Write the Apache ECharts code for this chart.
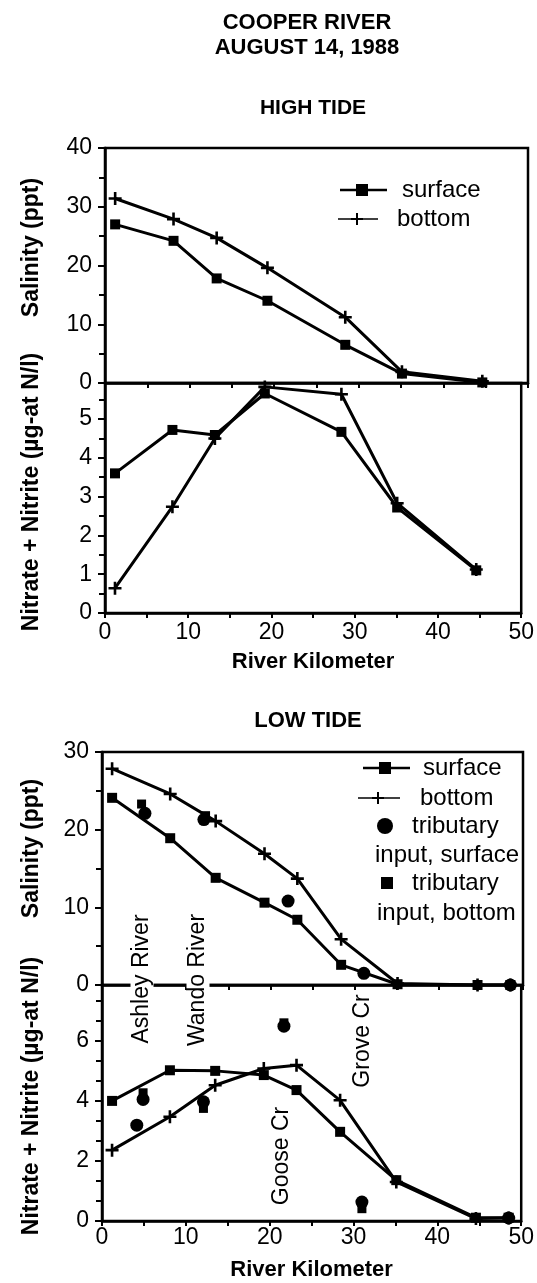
<!DOCTYPE html>
<html><head><meta charset="utf-8">
<script src="https://cdn.jsdelivr.net/npm/echarts@6/dist/echarts.min.js"></script>
<style>html,body{margin:0;padding:0;background:#fff}#c{width:537px;height:1283px}</style>
</head><body><div id="c"></div>
<script>
const FONT = '"Liberation Sans", Arial, Helvetica, sans-serif';

// ---- HIGH TIDE ----
const htKm = [1.2, 8.1, 13.2, 19.2, 28.4, 35.1, 44.6];
const htSalSurface = [27.0, 24.2, 17.8, 14.0, 6.5, 1.6, 0.1];
const htSalBottom = [31.4, 27.9, 24.7, 19.6, 11.2, 1.9, 0.3];
const htNitSurface = [3.6, 4.72, 4.59, 5.66, 4.67, 2.72, 1.1];
const htNitBottom = [0.64, 2.74, 4.5, 5.83, 5.64, 2.83, 1.12];

// ---- LOW TIDE ----
const ltKm = [1.2, 8.1, 13.5, 19.3, 23.2, 28.4, 35.1, 44.6, 48.5];
const ltSalSurface = [24.1, 18.9, 13.8, 10.6, 8.4, 2.6, 0.1, 0, 0];
const ltSalBottom = [27.85, 24.6, 21.1, 16.9, 13.7, 5.9, 0.2, 0, 0];
const ltNitSurface = [4.0, 5.02, 5.0, 4.86, 4.36, 2.97, 1.36, 0.11, 0.11];
const ltNitBottom = [2.36, 3.47, 4.52, 5.08, 5.19, 4.02, 1.3, 0.08, 0.1];

// tributary inputs (low tide)
const tribSalSurfKm = [5.1, 12.1, 22.1, 31.1, 48.5];
const tribSalSurf = [22.1, 21.3, 10.8, 1.5, 0];
const tribSalBotKm = [4.7, 12.3];
const tribSalBot = [23.3, 21.8];
const tribNitSurfKm = [4.9, 4.15, 12.1, 21.7, 31.0, 48.5];
const tribNitSurf = [4.05, 3.19, 3.97, 6.49, 0.63, 0.1];
const tribNitBotKm = [4.9, 12.1, 21.7, 31.0];
const tribNitBot = [4.27, 3.75, 6.6, 0.41];

// tick values
const kmTicks = [0, 10, 20, 30, 40, 50];
const htSalTicks = [0, 10, 20, 30, 40];
const htNitTicks = [0, 1, 2, 3, 4, 5];
const ltSalTicks = [0, 10, 20, 30];
const ltNitTicks = [0, 2, 4, 6];

const zip = (xs, ys) => xs.map((x, i) => [x, ys[i]]);
const PLUS = 'path://M4,0H6V4H10V6H6V10H4V6H0V4H4Z';
const K = '#000';

function lineSeries(name, xi, km, vals, symbol, size) {
  return {
    name, type: 'line', xAxisIndex: xi, yAxisIndex: xi,
    data: zip(km, vals), symbol, symbolSize: size, showAllSymbol: true,
    lineStyle: {color: K, width: 3}, itemStyle: {color: K, opacity: 1}, z: 3
  };
}
function scatterSeries(name, xi, km, vals, symbol, size) {
  return {
    name, type: 'scatter', xAxisIndex: xi, yAxisIndex: xi,
    data: zip(km, vals), symbol, symbolSize: size, itemStyle: {color: K, opacity: 1}, z: 4
  };
}

function xAxis(gi, showLabels) {
  return {
    type: 'value', gridIndex: gi, min: kmTicks[0], max: kmTicks[kmTicks.length - 1],
    interval: kmTicks[1] - kmTicks[0],
    axisLine: {lineStyle: {color: K, width: 2.5}},
    axisTick: {show: true, length: 5, lineStyle: {color: K, width: 2}},
    minorTick: {show: true, splitNumber: 2, length: 5, lineStyle: {color: K, width: 2}},
    splitLine: {show: false},
    axisLabel: {show: showLabels, color: K, fontFamily: FONT, fontSize: 23, margin: gi === 1 ? 8 : 5},
    name: showLabels ? 'River Kilometer' : '', nameLocation: 'middle', nameGap: 38,
    nameTextStyle: {color: K, fontFamily: FONT, fontSize: 22, fontWeight: 'bold'}
  };
}
function yAxis(gi, ticks, minorSplit, maxV, name, nameGap, pad) {
  return {
    type: 'value', gridIndex: gi, min: ticks[0], max: maxV, interval: ticks[1] - ticks[0],
    axisLine: {lineStyle: {color: K, width: 2.5}},
    axisTick: {show: true, length: 7, lineStyle: {color: K, width: 2}},
    minorTick: {show: true, splitNumber: minorSplit, length: 6, lineStyle: {color: K, width: 2}},
    splitLine: {show: false},
    axisLabel: {color: K, fontFamily: FONT, fontSize: 23, margin: 13,
      showMaxLabel: ticks[ticks.length - 1] === maxV,
      formatter: v => (ticks.indexOf(v) >= 0 ? String(v) : '')},
    name, nameLocation: 'middle', nameGap,
    nameTextStyle: {color: K, fontFamily: FONT, fontSize: 23, fontWeight: 'bold', padding: pad}
  };
}

const gridStyle = {show: true, borderColor: K, borderWidth: 2.5, backgroundColor: 'transparent'};

const txt = (x, y, text, size, bold, extra) => Object.assign({
  type: 'text', x, y,
  style: Object.assign({text, fill: K, font: (bold ? 'bold ' : '') + size + 'px ' + FONT,
    textAlign: 'left', textVerticalAlign: 'middle'}, extra || {})
});
const vtxt = (x, y, text, bg) => ({
  type: 'text', x, y, rotation: Math.PI / 2, z: 10,
  style: {text, fill: K, font: '23px ' + FONT, textAlign: 'center', textVerticalAlign: 'middle',
    backgroundColor: bg ? '#fff' : null, padding: 0}
});
const hline = (x1, x2, y, w) => ({type: 'line', shape: {x1, y1: y, x2, y2: y}, style: {stroke: K, lineWidth: w}});
const plusIcon = (cx, cy, s) => ([
  {type: 'line', shape: {x1: cx - s, y1: cy, x2: cx + s, y2: cy}, style: {stroke: K, lineWidth: 2}},
  {type: 'line', shape: {x1: cx, y1: cy - s, x2: cx, y2: cy + s}, style: {stroke: K, lineWidth: 2}}
]);
const rectIcon = (cx, cy, s) => ({type: 'rect', shape: {x: cx - s / 2, y: cy - s / 2, width: s, height: s}, style: {fill: K}});

const option = {
  backgroundColor: '#fff',
  animation: false,
  title: [
    {text: 'COOPER RIVER\nAUGUST 14, 1988', left: 302, top: 5, textAlign: 'center',
      textStyle: {fontFamily: FONT, fontSize: 22, fontWeight: 'bold', color: K, lineHeight: 25}},
    {text: 'HIGH TIDE', left: 308, top: 93, textAlign: 'center',
      textStyle: {fontFamily: FONT, fontSize: 21, fontWeight: 'bold', color: K}},
    {text: 'LOW TIDE', left: 303, top: 705, textAlign: 'center',
      textStyle: {fontFamily: FONT, fontSize: 22, fontWeight: 'bold', color: K}}
  ],
  grid: [
    Object.assign({left: 105, top: 148, width: 423, height: 235}, gridStyle),
    Object.assign({left: 105, top: 383, width: 423, height: 230}, gridStyle),
    Object.assign({left: 102, top: 752, width: 421, height: 233}, gridStyle),
    Object.assign({left: 102, top: 985, width: 421, height: 236}, gridStyle)
  ],
  xAxis: [xAxis(0, false), xAxis(1, true), xAxis(2, false), xAxis(3, true)],
  yAxis: [
    yAxis(0, htSalTicks, 2, 40, 'Salinity (ppt)', 62, [0, 0, 0, 36]),
    yAxis(1, htNitTicks, 2, 5.93, 'Nitrate + Nitrite (µg-at N/l)', 62, [0, 0, 0, 12]),
    yAxis(2, ltSalTicks, 2, 30, 'Salinity (ppt)', 59, [0, 0, 0, 40]),
    yAxis(3, ltNitTicks, 3, 7.86, 'Nitrate + Nitrite (µg-at N/l)', 59, [0, 0, 0, 14])
  ],
  series: [
    lineSeries('surface', 0, htKm, htSalSurface, 'rect', 10),
    lineSeries('bottom', 0, htKm, htSalBottom, PLUS, 13),
    lineSeries('surface', 1, htKm, htNitSurface, 'rect', 10),
    lineSeries('bottom', 1, htKm, htNitBottom, PLUS, 13),
    lineSeries('surface', 2, ltKm, ltSalSurface, 'rect', 10),
    lineSeries('bottom', 2, ltKm, ltSalBottom, PLUS, 13),
    scatterSeries('tributary input, surface', 2, tribSalSurfKm, tribSalSurf, 'circle', 13),
    scatterSeries('tributary input, bottom', 2, tribSalBotKm, tribSalBot, 'rect', 9),
    lineSeries('surface', 3, ltKm, ltNitSurface, 'rect', 10),
    lineSeries('bottom', 3, ltKm, ltNitBottom, PLUS, 13),
    scatterSeries('tributary input, surface', 3, tribNitSurfKm, tribNitSurf, 'circle', 13),
    scatterSeries('tributary input, bottom', 3, tribNitBotKm, tribNitBot, 'rect', 9)
  ],
  graphic: [
    // high tide legend
    hline(340, 387, 190, 2.5), rectIcon(362, 190, 12), txt(402, 190, 'surface', 24, false),
    hline(338, 378, 219, 1.5), ...plusIcon(357, 219, 6), txt(397, 219, 'bottom', 24, false),
    // low tide legend
    hline(363, 410, 768, 2.5), rectIcon(385, 768, 12), txt(423, 768, 'surface', 24, false),
    hline(358, 400, 798, 1.5), ...plusIcon(378, 798, 6), txt(420, 798, 'bottom', 24, false),
    {type: 'circle', shape: {cx: 385, cy: 826, r: 8}, style: {fill: K}},
    txt(412, 826, 'tributary', 24, false),
    txt(375, 855, 'input, surface', 24, false),
    rectIcon(387, 883, 12),
    txt(412, 883, 'tributary', 24, false),
    txt(377, 913, 'input, bottom', 24, false),
    // tributary annotations
    vtxt(142, 979, 'Ashley River', true),
    vtxt(198, 980, 'Wando River', true),
    vtxt(282, 1156, 'Goose Cr', false),
    vtxt(363, 1041, 'Grove Cr', false)
  ]
};

const chart = echarts.init(document.getElementById('c'), null, {renderer: 'canvas'});
chart.setOption(option);
</script>
</body></html>
